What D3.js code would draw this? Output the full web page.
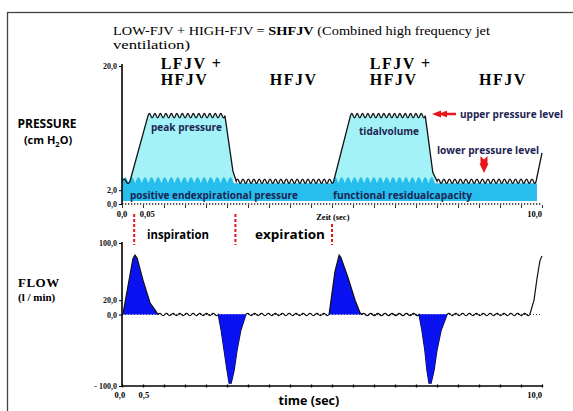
<!DOCTYPE html>
<html>
<head>
<meta charset="utf-8">
<script src="https://cdnjs.cloudflare.com/ajax/libs/d3/7.8.5/d3.min.js"></script>
<style>
body { margin: 0; background: #fff; }
svg { display: block; }
.serif { font-family: "Liberation Serif", "DejaVu Serif", serif; }
.sans { font-family: "Open Sans", "Noto Sans", sans-serif; font-weight: 700; }
</style>
</head>
<body>
<svg id="chart" width="573" height="411"></svg>
<script>
// pressure curve, key points (sec, cm H2O)
var pressTime  = [0, 0.19, 0.62, 2.45, 2.64, 2.72, 5.04, 5.44, 7.22, 7.40, 7.50, 9.86, 10.0];
var pressValue = [3.3, 3.3, 12.8, 12.8, 4.8, 3.3, 3.3, 12.8, 12.8, 4.6, 3.3, 3.3, 7.4];

// LFJV phases (start / end, sec) and the PEEP band
var lfjvStart = [0, 5.0];
var lfjvEnd   = [2.66, 7.45];
var bandTop = 3.0, bandBottom = 0.45, bandEnd = 9.88;

// flow curve (sec, l/min)
var flowTime  = [0.02, 0.26, 0.31, 0.36, 0.50, 0.67, 0.79, 0.86,
                 2.29, 2.36, 2.43, 2.50, 2.55, 2.60, 2.67, 2.74, 2.83, 2.95,
                 4.93, 5.07, 5.17, 5.21, 5.38, 5.55, 5.67, 5.71,
                 7.07, 7.14, 7.21, 7.26, 7.31, 7.36, 7.43, 7.50, 7.60, 7.74,
                 9.71, 9.81, 9.88, 9.95, 10.0];
var flowValue = [0, 78, 83, 79, 48, 16, 6, 0,
                 0, -22, -50, -78, -96, -96, -78, -50, -22, 0,
                 0, 60, 83, 80, 52, 20, 2, 0,
                 0, -22, -50, -78, -96, -96, -78, -50, -22, 0,
                 0, 20, 50, 75, 82];

// phase headings
var phaseTop  = ["LFJV +", "", "LFJV +", ""];
var phaseName = ["HFJV", "HFJV", "HFJV", "HFJV"];
var phaseAt   = [0.92, 3.52, 5.9, 8.5];

// inspiration / expiration markers
var markerTime = [0.29, 2.7, 5.0];

var pressTicks = [0, 2, 20];
var flowTicks = [-100, 0, 20, 100];
var timeTicks = d3.range(0, 10.01, 0.5);

function comma(d) {
    var s = d3.format(".1f")(Math.abs(d)).replace(".", ",");
    return d < 0 ? "- " + s : s;
}

var svg = d3.select("#chart");
var x = d3.scaleLinear().domain([0, 10]).range([122, 542]);
var yP = d3.scaleLinear().domain([0, 20]).range([204, 66]);
var yF = d3.scaleLinear().domain([-100, 100]).range([386, 243]);

// line with high frequency ripple on the flat parts
function ripplePath(pts, period, amp) {
    var p = d3.path();
    p.moveTo(pts[0][0], pts[0][1]);
    for (var i = 1; i < pts.length; i++) {
	var x0 = pts[i-1][0], y0 = pts[i-1][1], x1 = pts[i][0], y1 = pts[i][1];
	var dx = x1 - x0, dy = y1 - y0;
	if (dx > 0 && Math.abs(dy / dx) < 0.3 && dx > period) {
	    var n = Math.round(dx / period);
	    for (var k = 0; k < n; k++) {
		var xa = x0 + dx * k / n, xb = x0 + dx * (k + 1) / n;
		var ya = y0 + dy * k / n, yb = y0 + dy * (k + 1) / n;
		var xm = (xa + xb) / 2, ym = (ya + yb) / 2;
		p.quadraticCurveTo((xa + xm) / 2, (ya + ym) / 2 - 2 * amp, xm, ym);
		p.quadraticCurveTo((xm + xb) / 2, (ym + yb) / 2 + 2 * amp, xb, yb);
	    }
	} else {
	    p.lineTo(x1, y1);
	}
    }
    return p.toString();
}

svg.append("rect")
    .attr("x", 7.5).attr("y", 12.5)
    .attr("width", 620).attr("height", 430)
    .attr("fill", "none").attr("stroke", "#444").attr("stroke-width", 1.3);

// ---------- title
var title = svg.append("text").attr("class", "serif")
    .attr("x", 113).attr("y", 35)
    .attr("textLength", 377).attr("lengthAdjust", "spacingAndGlyphs")
    .style("font-size", "13.5px");
title.append("tspan").text("LOW-FJV + HIGH-FJV = ");
title.append("tspan").style("font-weight", 700).text("SHFJV");
title.append("tspan").text(" (Combined high frequency jet");
svg.append("text").attr("class", "serif")
    .attr("x", 113).attr("y", 49)
    .attr("textLength", 77).attr("lengthAdjust", "spacingAndGlyphs")
    .style("font-size", "13.5px")
    .text("ventilation)");

phaseAt.forEach(function(t, i) {
    var g = svg.append("g").attr("class", "serif")
	.style("font-size", "16px").style("font-weight", 700)
	.style("letter-spacing", "1.5px");
    if (phaseTop[i]) g.append("text").attr("x", x(t)).attr("y", 69).text(phaseTop[i]);
    g.append("text").attr("x", x(t)).attr("y", 85).text(phaseName[i]);
});

// ---------- pressure panel
var pressPts = pressTime.map(function(t, i) { return [x(t), yP(pressValue[i])]; });
var pressLine = ripplePath(pressPts, 5.5, 2.2);

var defs = svg.append("defs");
var clip = defs.append("clipPath").attr("id", "lfjvClip");
lfjvStart.forEach(function(t, i) {
    clip.append("rect")
	.attr("x", x(t)).attr("y", 0)
	.attr("width", x(lfjvEnd[i]) - x(t)).attr("height", 411);
});

svg.append("path")
    .attr("d", pressLine + "L" + x(10) + "," + yP(bandTop) + "L" + x(0) + "," + yP(bandTop) + "Z")
    .attr("clip-path", "url(#lfjvClip)")
    .attr("fill", "#a3f2f7");

// PEEP band with scalloped top during LFJV
var band = d3.path();
band.moveTo(x(0), yP(bandTop));
var scallop = 6.5;
lfjvStart.forEach(function(t, i) {
    var xa = x(t), xb = x(lfjvEnd[i]);
    band.lineTo(xa, yP(bandTop));
    var n = Math.round((xb - xa) / scallop);
    for (var k = 0; k < n; k++) {
	var s0 = xa + (xb - xa) * k / n, s1 = xa + (xb - xa) * (k + 1) / n;
	band.lineTo(s0 + 0.8, yP(bandTop) - 2);
	band.quadraticCurveTo((s0 + s1) / 2, yP(bandTop) - 10, s1 - 0.8, yP(bandTop) - 2);
	band.lineTo(s1, yP(bandTop));
    }
});
band.lineTo(x(bandEnd), yP(bandTop));
band.lineTo(x(bandEnd), yP(bandBottom));
band.lineTo(x(0), yP(bandBottom));
band.closePath();
svg.append("path").attr("d", band.toString()).attr("fill", "#27bdec");

svg.append("path")
    .attr("d", pressLine)
    .attr("fill", "none").attr("stroke", "#111").attr("stroke-width", 1.3);

// axes
svg.append("line")
    .attr("x1", x(0)).attr("x2", x(10))
    .attr("y1", yP(0)).attr("y2", yP(0))
    .attr("stroke", "#222").attr("stroke-width", 1.3).attr("stroke-dasharray", "1.3,1.7");

svg.append("g")
    .attr("transform", "translate(0," + (yP(0) + 1) + ")")
    .call(d3.axisBottom(x).tickValues(timeTicks).tickFormat("").tickSize(3).tickSizeOuter(0))
    .call(function(g) { g.select(".domain").remove(); })
    .selectAll("line").attr("stroke", "#333");

svg.append("g")
    .attr("transform", "translate(" + x(0) + ",0)")
    .call(d3.axisLeft(yP).tickValues(pressTicks).tickFormat(comma).tickSize(3).tickSizeOuter(0).tickPadding(2))
    .call(function(g) {
	g.select(".domain").attr("d", "M0," + (yP(0) + 1) + "V" + (yP(20) - 2)).attr("stroke-width", 1.6);
	g.selectAll("text").attr("class", "serif").style("font-size", "8px").style("font-weight", 700).attr("fill", "#111");
    });

var pressXLabels = [[0, "0,0", "middle"], [0.6, "0,05", "middle"], [5.02, "Zeit (sec)", "middle"], [10, "10,0", "end"]];
pressXLabels.forEach(function(d) {
    svg.append("text").attr("class", "serif")
	.attr("x", x(d[0])).attr("y", d[1] == "Zeit (sec)" ? 220 : 217)
	.attr("text-anchor", d[2])
	.style("font-size", "8.5px").style("font-weight", 700)
	.text(d[1]);
});

// labels inside the pressure panel
var navy = "#1c2452";
function note(tx, ty, s, size, len) {
    var t = svg.append("text").attr("class", "sans")
	.attr("x", tx).attr("y", ty)
	.attr("fill", navy)
	.style("font-size", size + "px")
	.text(s);
    if (len) t.attr("textLength", len).attr("lengthAdjust", "spacingAndGlyphs");
    return t;
}
note(151, 131, "peak pressure", 10.5, 71);
note(359, 135, "tidalvolume", 10.5, 60);
note(460, 118, "upper pressure level", 10.5, 103);
note(437, 154, "lower pressure level", 10.5, 102);
note(130, 199, "positive endexpirational pressure", 10.5, 168);
note(333, 199, "functional residualcapacity", 10.5, 139);

// red arrows
var red = "#e8161c";
svg.append("line").attr("x1", 440).attr("x2", 456).attr("y1", 114).attr("y2", 114)
    .attr("stroke", red).attr("stroke-width", 2.5);
svg.append("path").attr("d", "M432,114L441,110.5L441,117.5Z").attr("fill", red);
svg.append("path").attr("d", "M439,114L447,110.5L447,117.5Z").attr("fill", red);
svg.append("path").attr("d", "M480.5,156L484,159.5L487.5,156L487.5,164.5L480.5,164.5Z").attr("fill", red);
svg.append("path").attr("d", "M479.5,163.5L488.5,163.5L484,173Z").attr("fill", red);

svg.append("text").attr("class", "sans")
    .attr("x", 47).attr("y", 128).attr("text-anchor", "middle")
    .style("font-size", "12px").text("PRESSURE");
var unit = svg.append("text").attr("class", "sans")
    .attr("x", 48).attr("y", 143.5).attr("text-anchor", "middle")
    .style("font-size", "11px");
unit.append("tspan").text("(cm H");
unit.append("tspan").attr("dy", 3).style("font-size", "7.5px").text("2");
unit.append("tspan").attr("dy", -3).text("O)");

// ---------- inspiration / expiration markers
markerTime.forEach(function(t, i) {
    svg.append("line")
	.attr("x1", x(t)).attr("x2", x(t))
	.attr("y1", i == 2 ? 224 : 214).attr("y2", 245)
	.attr("stroke", red).attr("stroke-width", 2).attr("stroke-dasharray", "3,2");
});
svg.append("text").attr("class", "sans").attr("x", 147).attr("y", 239)
    .style("font-size", "11.5px").attr("textLength", 62).attr("lengthAdjust", "spacingAndGlyphs")
    .text("inspiration");
svg.append("text").attr("class", "sans").attr("x", 255).attr("y", 239)
    .style("font-size", "11.5px").attr("textLength", 70).attr("lengthAdjust", "spacingAndGlyphs")
    .text("expiration");

// ---------- flow panel
svg.append("line")
    .attr("x1", x(0)).attr("x2", x(10))
    .attr("y1", yF(0)).attr("y2", yF(0))
    .attr("stroke", "#444").attr("stroke-width", 1).attr("stroke-dasharray", "1,2");

var flowData = flowTime.map(function(t, i) { return {t: t, v: flowValue[i]}; });
var area = d3.area()
    .defined(function(d) { return d.t < 9.6; })
    .x(function(d) { return x(d.t); })
    .y0(yF(0))
    .y1(function(d) { return yF(d.v); });

svg.append("path").datum(flowData)
    .attr("d", area)
    .attr("fill", "#0a12f2");

var flowPts = flowData.map(function(d) { return [x(d.t), yF(d.v)]; });
svg.append("path")
    .attr("d", ripplePath(flowPts, 7, 1.1))
    .attr("fill", "none").attr("stroke", "#111").attr("stroke-width", 1.2);

// dips are plain blue
svg.append("path").datum(flowData)
    .attr("d", area.y1(function(d) { return yF(Math.min(d.v, 0)); }))
    .attr("fill", "#0a12f2");

svg.append("g")
    .attr("transform", "translate(0," + yF(-100) + ")")
    .call(d3.axisBottom(x).tickValues(timeTicks).tickFormat("").tickSize(3).tickSizeOuter(0))
    .call(function(g) {
	g.select(".domain").attr("d", "M" + x(0) + ",0H" + x(10)).attr("stroke-width", 1.5);
	g.selectAll(".tick line").attr("y1", -1.5).attr("y2", 1.5).attr("stroke-width", 1.3);
    });

svg.append("g")
    .attr("transform", "translate(" + x(0) + ",0)")
    .call(d3.axisLeft(yF).tickValues(flowTicks).tickFormat(comma).tickSize(3).tickSizeOuter(0).tickPadding(2))
    .call(function(g) {
	g.select(".domain").attr("d", "M0," + (yF(-100) + 1) + "V" + (yF(100) - 1)).attr("stroke-width", 1.6);
	g.selectAll("text").attr("class", "serif").style("font-size", "8px").style("font-weight", 700).attr("fill", "#111");
    });

var flowXLabels = [[-0.05, "0,0", "middle"], [0.52, "0,5", "middle"], [10, "10,0", "end"]];
flowXLabels.forEach(function(d) {
    svg.append("text").attr("class", "serif")
	.attr("x", x(d[0])).attr("y", 398)
	.attr("text-anchor", d[2])
	.style("font-size", "8.5px").style("font-weight", 700)
	.text(d[1]);
});
svg.append("text").attr("class", "sans")
    .attr("x", x(4.45)).attr("y", 405).attr("text-anchor", "middle")
    .style("font-size", "12.5px").text("time (sec)");

svg.append("text").attr("class", "serif")
    .attr("x", 18).attr("y", 287)
    .style("font-size", "13px").style("font-weight", 700).style("letter-spacing", "0.5px")
    .text("FLOW");
svg.append("text").attr("class", "serif")
    .attr("x", 18).attr("y", 301)
    .style("font-size", "11px").style("font-weight", 700)
    .text("(l / min)");
</script>
</body>
</html>
